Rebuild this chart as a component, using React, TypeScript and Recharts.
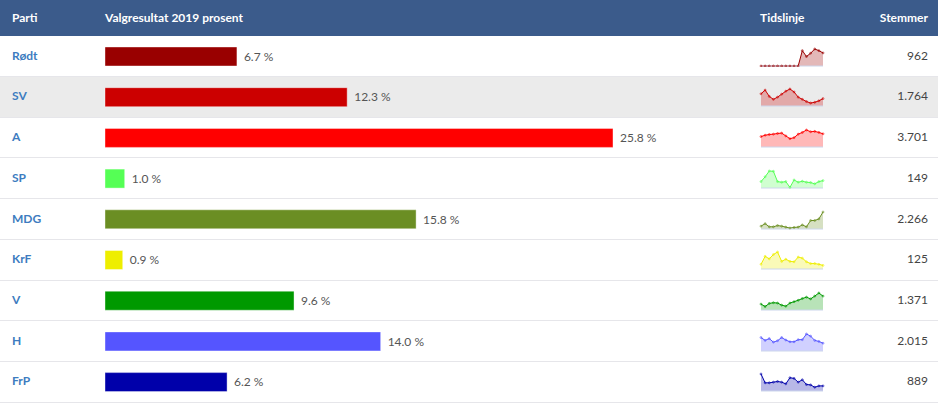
import React from "react";
import {
  BarChart, Bar, XAxis, YAxis, Cell, LabelList, AreaChart, Area,
} from "recharts";

const parties = ["Rødt", "SV", "A", "SP", "MDG", "KrF", "V", "H", "FrP"];
const results2019 = [6.7, 12.3, 25.8, 1.0, 15.8, 0.9, 9.6, 14.0, 6.2];
const votes = [962, 1764, 3701, 149, 2266, 125, 1371, 2015, 889];
const colors = ["#990000", "#cc0000", "#ff0000", "#55ff55", "#6b8e23", "#eeee00", "#009900", "#5555ff", "#0000aa"];

// tidslinje (relative nivåer, 16 målinger)
const rodtTrend = [0, 0, 0, 0, 0, 0, 0, 0, 0, 0, 47, 29, 39, 52, 47, 40];
const svTrend = [33, 43, 26, 18, 24, 32, 40, 46, 38, 24, 18, 12, 8, 10, 14, 20];
const aTrend = [30, 34, 36, 37, 39, 40, 32, 24, 27, 37, 42, 49, 44, 45, 42, 38];
const spTrend = [20, 35, 53, 52, 20, 18, 20, 2, 25, 18, 21, 18, 17, 13, 20, 23];
const mdgTrend = [9, 17, 7, 7, 11, 9, 6, 3, 5, 6, 13, 7, 27, 27, 32, 54];
const krfTrend = [13, 35, 28, 40, 47, 21, 27, 21, 20, 33, 30, 20, 15, 15, 13, 10];
const vTrend = [17, 10, 19, 21, 20, 14, 11, 20, 24, 28, 33, 37, 32, 40, 49, 40];
const hTrend = [38, 30, 35, 25, 29, 38, 31, 26, 26, 32, 32, 48, 42, 30, 27, 22];
const frpTrend = [50, 24, 24, 26, 28, 26, 21, 39, 37, 26, 33, 19, 18, 11, 15, 15];
const trends = [rodtTrend, svTrend, aTrend, spTrend, mdgTrend, krfTrend, vTrend, hTrend, frpTrend];

const W = 938;
const HEAD_H = 36.4;
const ROW_H = 40.7;
const FONT = "Lato, 'Open Sans', sans-serif";

const barData = parties.map((p, i) => ({ party: p, value: results2019[i] }));

const fmtVotes = (n: number) => n.toString().replace(/\B(?=(\d{3})+(?!\d))/g, ".");

function Sparkline({ values, color, top }: { values: number[]; color: string; top: number }) {
  const data = values.map((v, i) => ({ i, v }));
  return (
    <div style={{ position: "absolute", left: 759, top, width: 67, height: 20 }}>
      <AreaChart width={67} height={20} data={data} margin={{ top: 2, right: 3, bottom: 0, left: 2 }}>
        <XAxis dataKey="i" height={1} tick={false} tickLine={false} axisLine={{ stroke: "#ccd6eb" }} />
        <YAxis hide domain={[0, "dataMax"]} />
        <Area
          type="linear"
          dataKey="v"
          stroke={color}
          strokeWidth={1}
          fill={color}
          fillOpacity={0.28}
          dot={{ r: 1, fill: color, stroke: color, strokeWidth: 0.5 }}
          activeDot={false}
          isAnimationActive={false}
        />
      </AreaChart>
    </div>
  );
}

export default function App() {
  return (
    <div style={{ position: "absolute", left: 0, top: 0, width: W, height: 404, background: "#fff", fontFamily: FONT, fontSize: 12, overflow: "hidden" }}>
      <div style={{ position: "absolute", left: 0, top: 0, width: W, height: HEAD_H, background: "#3b5b8b", color: "#fff", fontWeight: 700 }}>
        <span style={{ position: "absolute", left: 12, top: 10 }}>Parti</span>
        <span style={{ position: "absolute", left: 105, top: 10 }}>Valgresultat 2019 prosent</span>
        <span style={{ position: "absolute", left: 760, top: 10 }}>Tidslinje</span>
        <span style={{ position: "absolute", right: 10, top: 10 }}>Stemmer</span>
      </div>
      {parties.map((p, i) => (
        <div
          key={p}
          style={{
            position: "absolute", left: 0, top: HEAD_H + i * ROW_H, width: W, height: ROW_H,
            background: i === 1 ? "#ebebeb" : "#fff", borderBottom: "1px solid #e6e6ea", boxSizing: "border-box",
          }}
        />
      ))}
      <div style={{ position: "absolute", left: 0, top: HEAD_H }}>
        <BarChart width={W} height={ROW_H * 9} data={barData} layout="vertical" margin={{ top: 0, right: 325, bottom: 0, left: 105 }}>
          <XAxis type="number" domain={[0, 25.8]} hide />
          <YAxis type="category" dataKey="party" hide />
          <Bar dataKey="value" barSize={19} isAnimationActive={false} stroke="#ffffff" strokeOpacity={0.4}>
            {barData.map((d, i) => (
              <Cell key={d.party} fill={colors[i]} />
            ))}
            <LabelList
              dataKey="value"
              position="right"
              offset={7}
              fill="#555"
              fontSize={12}
              fontFamily={FONT}
              formatter={(v: any) => `${Number(v).toFixed(1)} %`}
            />
          </Bar>
        </BarChart>
      </div>
      {parties.map((p, i) => {
        const c = HEAD_H + i * ROW_H + ROW_H / 2;
        return (
          <React.Fragment key={p}>
            <span style={{ position: "absolute", left: 12, top: c - 9, color: "#3d7cc0", fontWeight: 700 }}>{p}</span>
            <span style={{ position: "absolute", right: 10, top: c - 9, color: "#444" }}>{fmtVotes(votes[i])}</span>
            <Sparkline values={trends[i]} color={colors[i]} top={c - 10} />
          </React.Fragment>
        );
      })}
    </div>
  );
}
